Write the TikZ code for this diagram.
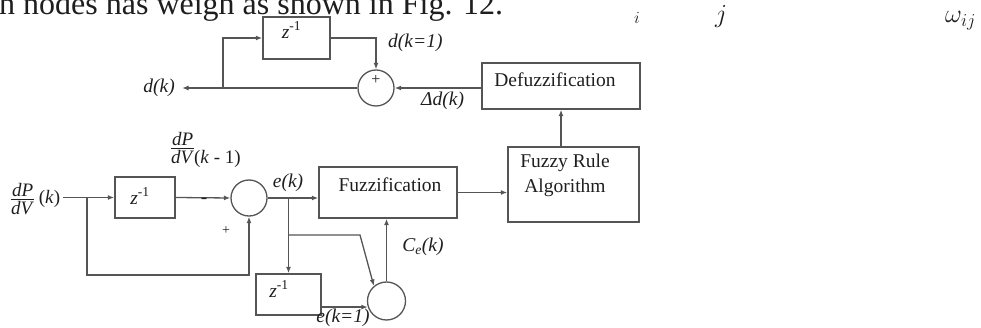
\RequirePackage{fix-cm}
\documentclass[tikz,border=0pt]{standalone}
\usepackage{fontspec}
\setmainfont{Liberation Serif}
\usepackage{tikz}
\usetikzlibrary{arrows.meta, calc}
\usepackage{xcolor}
\definecolor{linegray}{RGB}{85, 85, 85}
\definecolor{textblack}{RGB}{30, 30, 30}
\newcommand{\zinv}{\textit{z}\textsuperscript{-1}}
\newcommand{\dPdV}[1][c]{{\renewcommand{\arraystretch}{0}\begin{tabular}[#1]{@{}c@{}}\textit{dP}\\\noalign{\vskip2.5pt}\hline\noalign{\vskip2.5pt}\textit{dV}\end{tabular}}}

\begin{document}
\begin{tikzpicture}[x=1pt, y=-1pt, >={Latex[length=6.5pt, width=5pt]},
  wire/.style={linegray, line width=1.3pt},
  blockbox/.style={draw=linegray, line width=1.4pt, inner sep=0pt},
  sumnode/.style={draw=linegray, line width=1.3pt, circle, inner sep=0pt, minimum size=36pt},
  lbl/.style={textblack, font=\fontsize{19.5}{25}\selectfont},
  ilbl/.style={textblack, font=\fontsize{19.5}{25}\selectfont\itshape},
  fraclbl/.style={textblack, inner sep=0pt, font=\fontsize{19}{24}\selectfont}]

  \useasboundingbox (0,0) rectangle (981,328);

  % text line cut off above the figure
  \node[anchor=base west, inner sep=0pt, textblack, font=\fontsize{32}{38}\selectfont] (caption) at (-1,15) {h nodes has weigh as shown in Fig. 12.};
  \node[textblack, inner sep=0pt, font=\fontsize{17}{20}\selectfont] (symi) at (637,18) {$i$};
  \node[textblack, inner sep=0pt, font=\fontsize{26}{30}\selectfont] (symj) at (721,17) {$j$};
  \node[anchor=base west, textblack, inner sep=0pt, font=\fontsize{26}{30}\selectfont] (symw) at (945,23) {$\omega_{ij}$};

  % blocks
  \node[blockbox, minimum width=67pt, minimum height=42pt, label={[lbl, xshift=-5pt, yshift=8pt]center:\zinv}] (ztop) at (296.5,38) {};
  \node[blockbox, minimum width=158pt, minimum height=46pt, label={[lbl, xshift=-6pt, yshift=6pt]center:Defuzzification}] (defuzz) at (561,86) {};
  \node[blockbox, minimum width=131pt, minimum height=75pt, label={[lbl, align=center, xshift=-8.5pt, yshift=9pt]center:Fuzzy Rule\\Algorithm}] (rule) at (573.5,184.5) {};
  \node[blockbox, minimum width=138pt, minimum height=51pt, label={[lbl, xshift=2pt, yshift=7.5pt]center:Fuzzification}] (fuzz) at (388,192.5) {};
  \node[blockbox, minimum width=60pt, minimum height=41pt, label={[lbl, xshift=-5pt, yshift=1.5pt]center:\zinv}] (zmid) at (145,197.5) {};
  \node[blockbox, minimum width=65pt, minimum height=41pt, label={[lbl, xshift=-9.5pt, yshift=5.5pt]center:\zinv}] (zlow) at (288.5,294.5) {};

  % summing points
  \node[sumnode] (topsum) at (376,88) {};
  \node[sumnode] (sum1) at (249,198) {};
  \node[sumnode, minimum size=38pt] (lowsum) at (386.5,301) {};

  % output loop
  \coordinate (dk) at (182,88);
  \coordinate (tapA) at (223,88);
  \draw[wire, ->] (topsum.west) -- (dk);
  \draw[wire, ->] (tapA) |- (ztop.west);
  \draw[wire, ->] (ztop.east) -| (topsum.north);
  \draw[wire, ->] (defuzz.west |- topsum.east) -- (topsum.east);
  \draw[wire, ->] (rule.north -| defuzz.south) -- (defuzz.south);

  % input and error
  \coordinate (inp) at (63,197.5);
  \coordinate (tapB) at (87,197.5);
  \coordinate (loopB) at (87,275);
  \draw[wire, ->] (inp) -- (zmid.west);
  \draw[wire, ->] (zmid.east) -- (sum1.west);
  \draw[wire, ->] (tapB) -- (loopB) -| (sum1.south);
  \draw[wire, ->] (sum1.east) -- (fuzz.west |- sum1.east);
  \draw[wire, ->] (fuzz.east) -- (rule.west |- fuzz.east);

  % change of error
  \coordinate (tapC) at (zlow.north |- sum1.east);
  \coordinate (tapD) at (288.5,235);
  \coordinate (bendD) at (360,235);
  \draw[wire, ->] (tapC) -- (zlow.north);
  \draw[wire, ->] (tapD) -- (bendD) -- (lowsum.130);
  \draw[wire, ->] (zlow.east |- lowsum.198) -- (lowsum.198);
  \draw[wire, ->] (lowsum.north) -- (lowsum.north |- fuzz.south);

  % labels
  \node[ilbl, anchor=east, inner sep=0pt] (dklabel) at (175,88) {d(k)};
  \node[ilbl, anchor=west, inner sep=0pt] (dk1label) at (388,43) {d(k=1)};
  \node[ilbl, anchor=west, inner sep=0pt] (ddlabel) at (421,101) {Δd(k)};
  \node[fraclbl, anchor=west] (inlabel) at (11,199) {\dPdV\ (\textit{k})};
  \node[fraclbl, anchor=base west] (prevlabel) at (171,164) {\dPdV[b](\textit{k} - 1)};
  \node[ilbl, inner sep=0pt] (eklabel) at (288,183) {e(k)};
  \node[ilbl, inner sep=0pt] (celabel) at (423,247) {C\textsubscript{e}(k)};
  \node[ilbl, inner sep=0pt] (ek1label) at (343,318) {e(k=1)};
  \node[lbl, inner sep=0pt] (minus) at (204,201) {-};
  \node[lbl, inner sep=0pt, font=\fontsize{14}{16}\selectfont] (plusB) at (226,231) {+};
  \node[lbl, inner sep=0pt, font=\fontsize{16}{18}\selectfont] (plusA) at (376,80) {+};

\end{tikzpicture}
\end{document}
